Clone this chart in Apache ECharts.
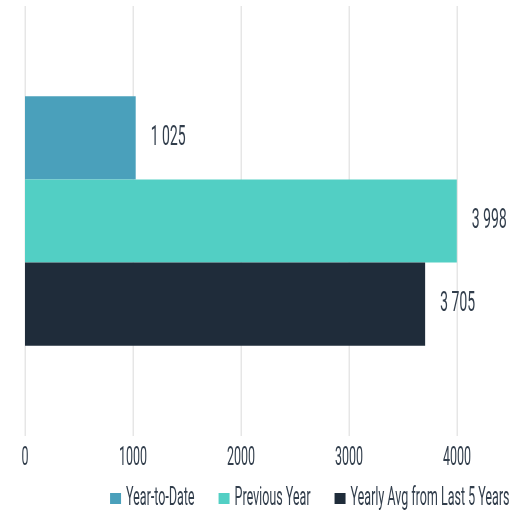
<!DOCTYPE html>
<html><head><meta charset="utf-8">
<script src="https://cdn.jsdelivr.net/npm/echarts@6/dist/echarts.min.js"></script>
<style>
html,body{margin:0;padding:0;background:#fff;overflow:hidden;width:512px;height:518px}
#c{width:1024px;height:518px;transform:scaleX(0.5);transform-origin:0 0}
</style>
</head><body><div id="c"></div>
<script>
const categories = ['Total'];
const seriesNames = ['Year-to-Date', 'Previous Year', 'Yearly Avg from Last 5 Years'];
const ytdValues = [1025];
const prevYearValues = [3998];
const avgValues = [3705];
const xTicks = [0, 1000, 2000, 3000, 4000];

// text is drawn in a horizontally-condensed style (container scaled 0.5 in x)
const S = 0.5;
const colors = ['#4aa0bb', '#52cfc4', '#1f2c3a'];
const font = 'Roboto, "Noto Sans", sans-serif';
const textColor = '#323e4c';
function fmt(v){ return String(v).replace(/\B(?=(\d{3})+(?!\d))/g, ' '); }

const chart = echarts.init(document.getElementById('c'), null, {renderer:'canvas'});
const valueLists = [ytdValues, prevYearValues, avgValues];
chart.setOption({
  animation: false,
  color: colors,
  grid: {left: 25 / S, right: 55 / S, top: 6, bottom: 82, containLabel: false},
  xAxis: {
    type: 'value', min: xTicks[0], max: xTicks[xTicks.length-1], interval: 1000,
    axisLine: {show: false}, axisTick: {show: false},
    splitLine: {lineStyle: {color: '#e6e6e6', width: 3}},
    axisLabel: {color: textColor, fontFamily: font, fontSize: 25, margin: 10, formatter: v => String(v)}
  },
  yAxis: {
    type: 'category', data: categories, inverse: true,
    axisLine: {show: false}, axisTick: {show: false}, axisLabel: {show: false}
  },
  legend: {
    bottom: 2, right: 0, icon: 'rect', itemWidth: 11 / S, itemHeight: 11, itemGap: 24 / S,
    textStyle: {color: textColor, fontFamily: font, fontSize: 25, padding: [0, 0, 0, 5]}
  },
  series: seriesNames.map((n, i) => ({
    name: n, type: 'bar', data: valueLists[i], barGap: '0%', barCategoryGap: '42%',
    label: {show: true, position: 'right', distance: 15 / S, color: textColor, fontFamily: font, fontSize: 28,
      formatter: p => fmt(p.value)}
  }))
});
</script></body></html>
